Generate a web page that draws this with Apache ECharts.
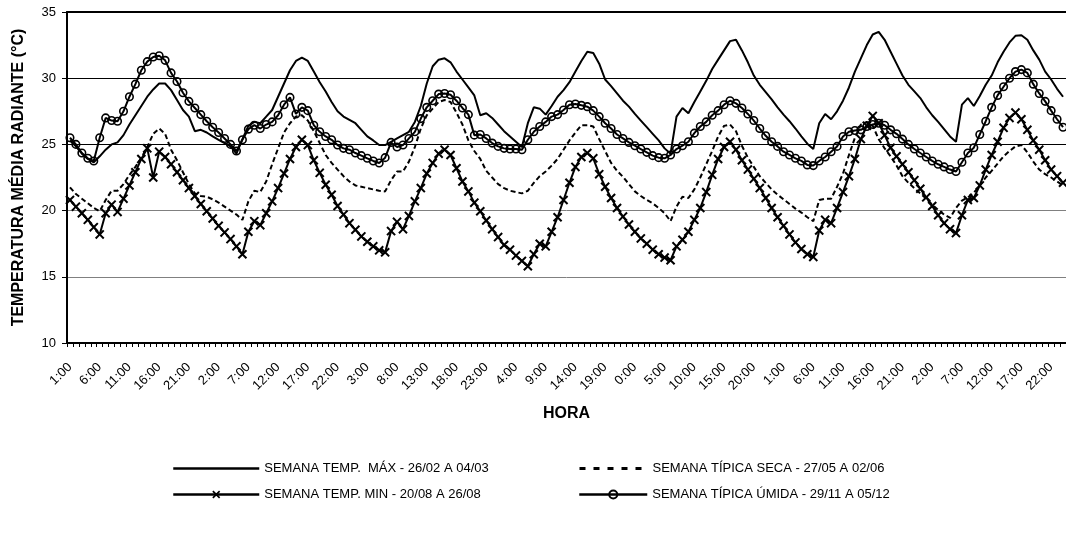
<!DOCTYPE html>
<html><head><meta charset="utf-8">
<script src="https://cdn.jsdelivr.net/npm/echarts@6/dist/echarts.min.js"></script>
<style>html,body{margin:0;padding:0;background:#fff}#chart{width:1066px;height:539px}</style>
</head><body><div id="chart"></div>
<script>
// hour labels of one day and number of days in the week shown
const HOURS = ["1:00","2:00","3:00","4:00","5:00","6:00","7:00","8:00","9:00","10:00","11:00","12:00",
               "13:00","14:00","15:00","16:00","17:00","18:00","19:00","20:00","21:00","22:00","23:00","0:00"];
const DAYS = 7;
const categories = [];
for (let d = 0; d < DAYS; d++) for (const h of HOURS) categories.push(h);

const Y_MIN = 10, Y_MAX = 35, Y_STEP = 5;

const NAME_MAX   = "SEMANA TEMP.  MÁX - 26/02 A 04/03";
const NAME_SECA  = "SEMANA TÍPICA SECA - 27/05 A 02/06";
const NAME_MIN   = "SEMANA TEMP. MIN - 20/08 A 26/08";
const NAME_UMIDA = "SEMANA TÍPICA ÚMIDA - 29/11 A 05/12";
const X_TITLE = "HORA";
const Y_TITLE = "TEMPERATURA MÉDIA RADIANTE (°C)";

const semanaMax = [
 25.3,24.85,24.3,23.9,23.65,24.1,24.6,25.0,25.15,25.7,26.5,27.2,27.9,28.6,29.15,29.6,29.6,29.1,28.35,27.6,27.1,26.0,26.1,25.9,
 25.6,25.35,25.1,24.85,24.3,25.4,26.4,26.7,26.6,27.1,27.6,28.6,29.6,30.6,31.3,31.55,31.3,30.5,29.7,29.0,28.2,27.5,27.1,26.85,
 26.6,26.1,25.6,25.3,24.95,24.95,25.2,25.45,25.7,25.95,26.7,27.9,29.6,30.9,31.4,31.5,31.2,30.5,29.9,29.3,28.7,27.2,27.35,27.0,
 26.5,26.0,25.6,25.2,24.8,26.6,27.8,27.7,27.25,27.9,28.6,29.1,29.7,30.5,31.3,32.0,31.9,31.1,29.9,29.4,28.85,28.3,27.85,27.3,
 26.8,26.3,25.8,25.3,24.7,24.3,27.1,27.75,27.35,28.2,29.0,29.8,30.7,31.4,32.1,32.8,32.9,32.1,31.2,30.2,29.5,28.95,28.4,27.8,
 27.25,26.75,26.2,25.6,25.05,24.65,26.6,27.3,26.9,27.5,28.3,29.3,30.5,31.5,32.5,33.3,33.5,32.9,32.0,31.1,30.2,29.5,29.0,28.5,
 27.8,27.2,26.7,26.15,25.6,25.2,28.0,28.5,27.9,28.65,29.5,30.2,31.2,32.0,32.7,33.2,33.25,32.9,32.1,31.4,30.5,29.9,29.2,28.6
];
const semanaMin = [
 20.8,20.3,19.8,19.3,18.75,18.2,19.8,20.45,19.9,20.9,21.9,22.9,23.9,24.7,22.5,24.45,24.05,23.5,22.9,22.3,21.7,21.1,20.5,19.95,
 19.4,18.85,18.35,17.85,17.3,16.7,18.4,19.2,18.9,19.8,20.7,21.7,22.8,23.9,24.8,25.35,24.95,23.8,22.85,21.95,21.2,20.35,19.7,19.05,
 18.55,18.05,17.65,17.3,17.0,16.85,18.45,19.15,18.6,19.6,20.7,21.7,22.8,23.6,24.3,24.6,24.2,23.2,22.2,21.45,20.6,19.95,19.25,18.6,
 18.0,17.4,17.05,16.6,16.2,15.8,16.7,17.5,17.3,18.4,19.5,20.8,22.1,23.3,24.05,24.35,23.95,22.75,21.8,20.95,20.2,19.55,18.95,18.4,
 17.9,17.5,17.05,16.7,16.45,16.25,17.3,17.8,18.4,19.3,20.2,21.4,22.7,23.9,24.8,25.2,24.6,23.8,23.1,22.4,21.7,20.95,20.2,19.5,
 18.85,18.2,17.6,17.1,16.7,16.5,18.5,19.3,19.05,20.2,21.4,22.6,23.9,25.4,26.4,27.15,26.6,25.7,24.75,24.1,23.5,22.9,22.3,21.65,
 21.0,20.35,19.65,19.05,18.6,18.3,19.65,20.8,20.95,21.9,23.1,24.2,25.2,26.25,27.0,27.4,26.9,26.1,25.3,24.6,23.8,23.1,22.6,22.1
];
const semanaSeca = [
 21.75,21.25,20.9,20.55,20.2,19.95,20.8,21.5,21.5,22.0,22.7,23.3,24.0,24.8,25.8,26.2,25.8,24.6,23.8,22.9,22.0,21.3,21.1,21.05,
 20.85,20.6,20.3,20.0,19.7,19.3,20.7,21.5,21.4,22.2,23.5,24.7,25.9,26.6,27.1,27.2,26.8,26.0,25.1,24.2,23.6,23.1,22.6,22.2,
 21.9,21.8,21.7,21.6,21.5,21.45,22.3,22.95,22.95,23.7,24.8,26.2,27.2,27.7,28.2,28.35,28.2,27.4,26.5,25.3,24.5,23.9,23.0,22.5,
 22.0,21.7,21.5,21.4,21.3,21.5,22.1,22.6,22.95,23.4,23.9,24.6,25.3,25.9,26.45,26.45,26.35,25.4,24.5,23.6,23.0,22.55,22.0,21.45,
 21.1,20.8,20.55,20.2,19.8,19.2,20.3,21.05,20.95,21.6,22.5,23.5,24.5,25.6,26.4,26.5,26.0,24.9,24.0,23.3,22.6,22.1,21.6,21.2,
 20.85,20.5,20.15,19.85,19.5,19.2,20.8,20.9,20.9,21.8,22.8,24.2,25.5,26.5,26.7,26.4,25.4,24.7,24.1,23.4,22.6,22.1,21.7,21.3,
 20.9,20.45,20.05,19.7,19.45,20.2,20.75,21.0,21.35,21.9,22.5,23.0,23.55,24.1,24.5,24.85,24.95,24.4,23.7,23.1,22.75,22.5,22.2,21.9
];
const semanaUmida = [
 25.5,25.0,24.35,23.95,23.75,25.5,27.0,26.8,26.75,27.5,28.6,29.55,30.6,31.25,31.6,31.7,31.35,30.4,29.75,28.9,28.25,27.75,27.25,26.75,
 26.3,25.9,25.45,25.0,24.5,25.35,26.15,26.45,26.2,26.5,26.7,27.2,28.0,28.55,27.3,27.8,27.55,26.45,25.95,25.6,25.35,24.95,24.7,24.6,
 24.35,24.15,23.95,23.75,23.6,24.0,25.15,24.8,24.95,25.45,25.95,26.95,27.8,28.3,28.8,28.85,28.75,28.3,27.75,27.25,25.7,25.75,25.45,25.1,
 24.85,24.7,24.65,24.65,24.6,25.35,25.95,26.35,26.7,27.1,27.25,27.6,28.0,28.05,27.95,27.85,27.55,27.1,26.6,26.2,25.75,25.45,25.15,24.9,
 24.65,24.4,24.15,24.0,23.95,24.2,24.65,24.9,25.2,25.85,26.35,26.7,27.2,27.55,28.0,28.3,28.1,27.75,27.3,26.8,26.2,25.65,25.2,24.85,
 24.45,24.2,23.95,23.75,23.45,23.4,23.75,24.05,24.45,24.85,25.6,25.95,26.05,26.1,26.35,26.5,26.6,26.45,26.1,25.8,25.4,25.0,24.65,24.35,
 24.05,23.75,23.5,23.3,23.1,22.95,23.65,24.35,24.75,25.75,26.75,27.8,28.7,29.35,30.0,30.5,30.65,30.4,29.55,28.85,28.25,27.55,26.9,26.3
];

const FONT = "'Liberation Sans', Arial, Helvetica, sans-serif";
const CROSS = 'path://M0,3 L3,0 L10,7 L17,0 L20,3 L13,10 L20,17 L17,20 L10,13 L3,20 L0,17 L7,10 Z';

const chart = echarts.init(document.getElementById('chart'), null, {renderer: 'canvas'});
const legendText = {fontFamily: FONT, fontSize: 13, color: '#000'};
function legendAt(name, left, top, w, extra) {
  return Object.assign({data: [name], left: left, top: top, itemWidth: w, itemHeight: 10, padding: 0,
          selectedMode: false, textStyle: legendText}, extra || {});
}
const hiddenSymbol = {itemStyle: {color: 'rgba(0,0,0,0)', borderWidth: 0, opacity: 0}};
chart.setOption({
  animation: false,
  backgroundColor: '#fff',
  grid: {left: 67, right: -6, top: 12, bottom: 196},
  legend: [
    legendAt(NAME_MAX, 172, 462, 86, Object.assign({lineStyle: {width: 2.5}}, hiddenSymbol)),
    legendAt(NAME_SECA, 578, 462, 68, Object.assign({lineStyle: {width: 3, type: [6, 8]}}, hiddenSymbol)),
    legendAt(NAME_MIN, 172, 488, 86, {lineStyle: {width: 2.5}}),
    legendAt(NAME_UMIDA, 578, 488, 68, {lineStyle: {width: 2.5}})
  ],
  xAxis: [{
    type: 'category', data: categories, boundaryGap: true,
    name: X_TITLE, nameLocation: 'middle', nameGap: 63,
    nameTextStyle: {fontFamily: FONT, fontSize: 16, fontWeight: 'bold', color: '#000'},
    axisLine: {lineStyle: {color: '#000', width: 2}},
    axisTick: {show: true, interval: 0, length: 4, lineStyle: {color: '#000', width: 1}},
    axisLabel: {interval: 4, rotate: 45, margin: 22, fontFamily: FONT, fontSize: 13, color: '#000'},
    splitLine: {show: false}
  }, {
    type: 'category', data: categories, position: 'top', boundaryGap: true,
    axisLine: {lineStyle: {color: '#000', width: 2}},
    axisTick: {show: false}, axisLabel: {show: false}, splitLine: {show: false}
  }],
  yAxis: {
    type: 'value', min: Y_MIN, max: Y_MAX, interval: Y_STEP,
    name: Y_TITLE, nameLocation: 'middle', nameGap: 40, nameRotate: 90,
    nameTextStyle: {fontFamily: FONT, fontSize: 16, fontWeight: 'bold', color: '#000'},
    axisLine: {show: true, lineStyle: {color: '#000', width: 2}},
    axisTick: {show: true, length: 5, lineStyle: {color: '#000'}},
    axisLabel: {margin: 11, fontFamily: FONT, fontSize: 13, color: '#000'},
    splitLine: {show: true, lineStyle: {color: ['#000', '#808080', '#808080', '#000', '#000', '#000'], width: 1}}
  },
  series: [
    {name: NAME_MAX, type: 'line', data: semanaMax, symbol: 'none',
     lineStyle: {color: '#000', width: 2}, itemStyle: {color: '#000'}, z: 2},
    {name: NAME_SECA, type: 'line', data: semanaSeca, symbol: 'none',
     lineStyle: {color: '#000', width: 2, type: [5, 3]}, itemStyle: {color: '#000'}, z: 3},
    {name: NAME_UMIDA, type: 'line', data: semanaUmida, symbol: 'circle', symbolSize: 7.5, showAllSymbol: true,
     lineStyle: {color: '#000', width: 2},
     itemStyle: {color: 'rgba(255,255,255,0)', borderColor: '#000', borderWidth: 1.6}, z: 4},
    {name: NAME_MIN, type: 'line', data: semanaMin, symbol: CROSS, symbolSize: 9.5, showAllSymbol: true,
     lineStyle: {color: '#000', width: 2}, itemStyle: {color: '#000'}, z: 5}
  ]
});
</script>
</body></html>
